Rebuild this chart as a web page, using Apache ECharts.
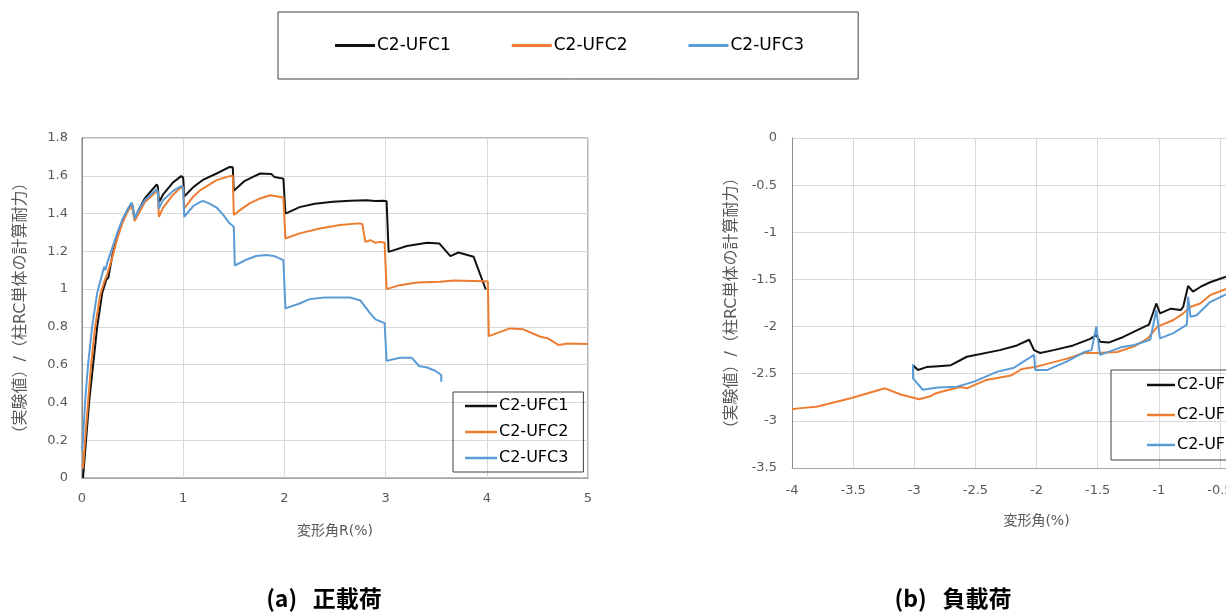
<!DOCTYPE html>
<html>
<head>
<meta charset="utf-8">
<script src="https://cdn.jsdelivr.net/npm/echarts@6/dist/echarts.min.js"></script>
<style>
html,body{margin:0;padding:0;background:#fff;}
#chart{width:1226px;height:612px;}
</style>
</head>
<body>
<div id="chart"></div>
<script>
// ---- data ----
const seriesNames = ['C2-UFC1', 'C2-UFC2', 'C2-UFC3'];
const xTitlePos = '変形角R(%)';
const xTitleNeg = '変形角(%)';
const yTitle = '（実験値）/（柱RC単体の計算耐力）';
const captionA = '(a)   正載荷';
const captionB = '(b)   負載荷';

// (a) positive loading: [R(%), ratio]
const ufc1Pos = [[0.01,0],[0.04,0.2],[0.07,0.4],[0.11,0.6],[0.15,0.8],[0.2,0.98],[0.24,1.05],[0.26,1.06],[0.27,1.09],[0.3,1.18],[0.35,1.28],[0.4,1.36],[0.45,1.42],[0.49,1.455],[0.5,1.44],[0.52,1.37],[0.56,1.42],[0.62,1.48],[0.7,1.53],[0.74,1.555],[0.75,1.54],[0.76,1.46],[0.8,1.5],[0.9,1.565],[0.98,1.598],[1.0,1.59],[1.01,1.49],[1.1,1.54],[1.2,1.58],[1.33,1.612],[1.46,1.647],[1.49,1.645],[1.5,1.52],[1.53,1.535],[1.6,1.57],[1.69,1.594],[1.76,1.612],[1.87,1.61],[1.9,1.594],[1.99,1.585],[2.01,1.40],[2.15,1.434],[2.3,1.452],[2.48,1.462],[2.65,1.468],[2.81,1.47],[2.9,1.467],[2.98,1.468],[3.01,1.465],[3.03,1.197],[3.21,1.228],[3.41,1.245],[3.53,1.242],[3.64,1.175],[3.72,1.194],[3.87,1.171],[3.99,0.998]];
const ufc2Pos = [[0.01,0.05],[0.03,0.2],[0.06,0.4],[0.09,0.6],[0.13,0.8],[0.18,0.97],[0.22,1.04],[0.25,1.08],[0.3,1.17],[0.35,1.27],[0.4,1.35],[0.45,1.41],[0.49,1.44],[0.5,1.42],[0.52,1.36],[0.56,1.40],[0.62,1.46],[0.7,1.50],[0.74,1.52],[0.75,1.50],[0.76,1.383],[0.8,1.43],[0.9,1.5],[0.98,1.54],[1.0,1.53],[1.01,1.427],[1.1,1.49],[1.17,1.524],[1.33,1.577],[1.46,1.598],[1.49,1.60],[1.5,1.392],[1.56,1.418],[1.66,1.455],[1.76,1.48],[1.86,1.497],[1.99,1.485],[2.01,1.268],[2.15,1.295],[2.35,1.321],[2.55,1.339],[2.73,1.348],[2.77,1.345],[2.80,1.25],[2.85,1.259],[2.9,1.245],[2.95,1.25],[2.99,1.245],[3.01,1.0],[3.14,1.021],[3.31,1.035],[3.54,1.039],[3.67,1.046],[3.97,1.042],[4.01,1.04],[4.02,0.751],[4.23,0.792],[4.36,0.787],[4.53,0.748],[4.6,0.74],[4.71,0.704],[4.8,0.712],[5.0,0.709]];
const ufc3Pos = [[0.0,0.15],[0.01,0.2],[0.03,0.4],[0.06,0.6],[0.1,0.8],[0.15,0.98],[0.2,1.08],[0.22,1.12],[0.23,1.10],[0.25,1.14],[0.3,1.22],[0.35,1.3],[0.4,1.37],[0.45,1.42],[0.49,1.457],[0.5,1.44],[0.52,1.374],[0.56,1.42],[0.62,1.47],[0.7,1.51],[0.74,1.53],[0.75,1.51],[0.76,1.427],[0.8,1.47],[0.9,1.52],[0.98,1.545],[1.0,1.54],[1.01,1.383],[1.1,1.44],[1.17,1.462],[1.2,1.466],[1.25,1.455],[1.33,1.432],[1.4,1.39],[1.46,1.347],[1.5,1.33],[1.51,1.125],[1.63,1.157],[1.72,1.175],[1.82,1.18],[1.9,1.175],[1.99,1.153],[2.01,0.898],[2.15,0.924],[2.25,0.947],[2.4,0.956],[2.65,0.956],[2.75,0.94],[2.85,0.87],[2.9,0.84],[2.99,0.82],[3.01,0.62],[3.14,0.637],[3.26,0.636],[3.33,0.593],[3.41,0.585],[3.49,0.568],[3.55,0.545],[3.55,0.51]];

// (b) negative loading: [R(%), ratio]
const ufc1Neg = [[-3.01,-2.41],[-2.97,-2.46],[-2.90,-2.43],[-2.80,-2.42],[-2.70,-2.41],[-2.57,-2.32],[-2.30,-2.25],[-2.16,-2.20],[-2.06,-2.14],[-2.02,-2.25],[-1.97,-2.28],[-1.86,-2.25],[-1.70,-2.20],[-1.56,-2.13],[-1.51,-2.09],[-1.48,-2.16],[-1.41,-2.17],[-1.29,-2.11],[-1.18,-2.04],[-1.08,-1.98],[-1.02,-1.755],[-0.99,-1.86],[-0.90,-1.81],[-0.82,-1.825],[-0.80,-1.79],[-0.76,-1.57],[-0.72,-1.63],[-0.66,-1.58],[-0.58,-1.53],[-0.45,-1.47]];
const ufc2Neg = [[-4.0,-2.876],[-3.93,-2.865],[-3.80,-2.85],[-3.52,-2.76],[-3.24,-2.655],[-3.11,-2.72],[-2.96,-2.77],[-2.87,-2.74],[-2.83,-2.71],[-2.70,-2.665],[-2.62,-2.64],[-2.57,-2.655],[-2.41,-2.566],[-2.21,-2.52],[-2.12,-2.45],[-2.0,-2.425],[-1.75,-2.34],[-1.61,-2.28],[-1.51,-2.28],[-1.34,-2.27],[-1.20,-2.21],[-1.09,-2.125],[-1.01,-2.0],[-0.88,-1.93],[-0.80,-1.86],[-0.74,-1.79],[-0.66,-1.755],[-0.58,-1.667],[-0.45,-1.60]];
const ufc3Neg = [[-3.01,-2.40],[-3.01,-2.55],[-2.93,-2.67],[-2.81,-2.647],[-2.65,-2.637],[-2.51,-2.584],[-2.32,-2.478],[-2.19,-2.44],[-2.02,-2.30],[-2.01,-2.46],[-1.91,-2.46],[-1.75,-2.37],[-1.61,-2.27],[-1.55,-2.25],[-1.51,-2.0],[-1.48,-2.30],[-1.37,-2.25],[-1.31,-2.22],[-1.20,-2.196],[-1.07,-2.14],[-1.02,-1.825],[-0.99,-2.125],[-0.88,-2.07],[-0.77,-1.98],[-0.76,-1.685],[-0.74,-1.896],[-0.69,-1.88],[-0.58,-1.74],[-0.45,-1.66]];

const colors = ['#111111', '#ED7D31', '#5B9BD5'];
const FONT = "'DejaVu Sans', 'Noto Sans CJK JP', sans-serif";
const CJK = "'Noto Sans CJK JP', sans-serif";
const labelColor = '#595959';

const chart = echarts.init(document.getElementById('chart'), null, {renderer: 'canvas'});

function mkSeries(name, data, idx, axis) {
  return {
    name: name, type: 'line', data: data,
    xAxisIndex: axis, yAxisIndex: axis,
    showSymbol: false, symbol: 'none', smooth: false,
    lineStyle: {color: colors[idx], width: 2},
    itemStyle: {color: colors[idx]},
    animation: false, clip: true
  };
}

const axisLabel = {color: labelColor, fontFamily: FONT, fontSize: 13};
const gridLine = {show: true, lineStyle: {color: '#d9d9d9', width: 1}};
const titleStyle = {color: labelColor, fontFamily: FONT, fontSize: 14};
const yTitleStyle = {color: labelColor, fontFamily: FONT, fontSize: 16};
const captionStyle = {fontFamily: CJK, fontSize: 23, fontWeight: 'bold', color: '#000'};

const option = {
  backgroundColor: '#ffffff',
  animation: false,
  textStyle: {fontFamily: FONT},
  title: [
    {text: captionA, left: 319, top: 582, textAlign: 'center', textStyle: captionStyle},
    {text: captionB, left: 948, top: 582, textAlign: 'center', textStyle: captionStyle}
  ],
  legend: [
    {data: seriesNames, orient: 'horizontal', left: 278, top: 12,
     icon: 'rect', itemWidth: 40, itemHeight: 3, itemGap: 61,
     padding: [25, 54, 25, 57], borderColor: '#404040', borderWidth: 1,
     textStyle: {fontFamily: FONT, fontSize: 17, color: '#000', padding: [0, 0, 0, -3]}, selectedMode: false},
    {data: seriesNames, orient: 'vertical', left: 453, top: 392,
     icon: 'rect', itemWidth: 32, itemHeight: 2.5, itemGap: 10,
     padding: [6, 15, 6, 12], borderColor: '#404040', borderWidth: 1,
     textStyle: {fontFamily: FONT, fontSize: 16, color: '#000', padding: [0, 0, 0, -3]}, selectedMode: false},
    {data: seriesNames, orient: 'vertical', left: 1111, top: 370,
     icon: 'rect', itemWidth: 28, itemHeight: 2.5, itemGap: 14,
     padding: [7, 10, 7, 36], borderColor: '#404040', borderWidth: 1,
     textStyle: {fontFamily: FONT, fontSize: 16, color: '#000', padding: [0, 0, 0, -3]}, selectedMode: false}
  ],
  grid: [
    {left: 82, top: 138, width: 506, height: 340, show: true, borderColor: '#767676', borderWidth: 1,
     containLabel: false, outerBoundsMode: 'none'},
    {left: 792, top: 138, width: 489, height: 330, show: false, containLabel: false, outerBoundsMode: 'none'}
  ],
  xAxis: [
    {gridIndex: 0, type: 'value', min: 0, max: 5, interval: 1,
     name: xTitlePos, nameLocation: 'middle', nameGap: 46, nameTextStyle: titleStyle,
     axisLine: {show: true, lineStyle: {color: '#a6a6a6'}}, axisTick: {show: false},
     axisLabel: Object.assign({margin: 14}, axisLabel), splitLine: gridLine},
    {gridIndex: 1, type: 'value', min: -4, max: 0, interval: 0.5,
     name: xTitleNeg, nameLocation: 'middle', nameGap: 46, nameTextStyle: titleStyle,
     axisLine: {show: true, onZero: false, lineStyle: {color: '#a6a6a6'}}, axisTick: {show: false},
     axisLabel: Object.assign({margin: 16}, axisLabel), splitLine: gridLine}
  ],
  yAxis: [
    {gridIndex: 0, type: 'value', min: 0, max: 1.8, interval: 0.2,
     name: yTitle, nameLocation: 'middle', nameGap: 53, nameTextStyle: yTitleStyle,
     axisLine: {show: true, lineStyle: {color: '#8c8c8c'}}, axisTick: {show: false},
     axisLabel: Object.assign({margin: 14}, axisLabel), splitLine: gridLine},
    {gridIndex: 1, type: 'value', min: -3.5, max: 0, interval: 0.5,
     name: yTitle, nameLocation: 'middle', nameGap: 52, nameTextStyle: yTitleStyle,
     axisLine: {show: true, onZero: false, lineStyle: {color: '#8c8c8c'}}, axisTick: {show: false},
     axisLabel: Object.assign({margin: 15}, axisLabel), splitLine: gridLine}
  ],
  series: [
    mkSeries(seriesNames[0], ufc1Pos, 0, 0),
    mkSeries(seriesNames[1], ufc2Pos, 1, 0),
    mkSeries(seriesNames[2], ufc3Pos, 2, 0),
    mkSeries(seriesNames[0], ufc1Neg, 0, 1),
    mkSeries(seriesNames[1], ufc2Neg, 1, 1),
    mkSeries(seriesNames[2], ufc3Neg, 2, 1)
  ]
};
chart.setOption(option);
</script>
</body>
</html>
